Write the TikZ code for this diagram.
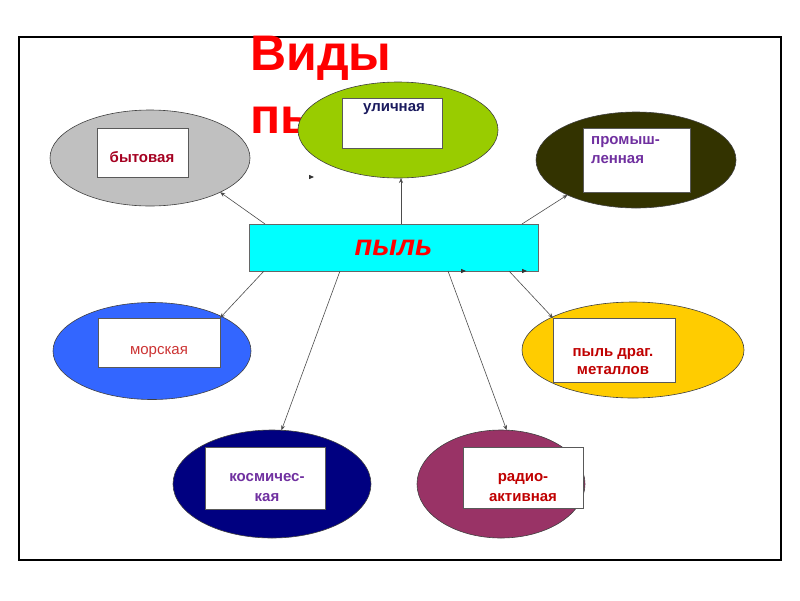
\documentclass[tikz,border=0pt]{standalone}
\usepackage{fontspec}
\setmainfont{Liberation Sans}
\usetikzlibrary{shapes.geometric,calc,arrows.meta}
\definecolor{cgray}{HTML}{C0C0C0}
\definecolor{cgreen}{HTML}{99CC00}
\definecolor{colive}{HTML}{333300}
\definecolor{cblue}{HTML}{3366FF}
\definecolor{cyellow}{HTML}{FFCC00}
\definecolor{cnavy}{HTML}{000080}
\definecolor{cplum}{HTML}{993366}
\definecolor{ccyan}{HTML}{00FFFF}
\definecolor{tdred}{HTML}{A50021}
\definecolor{tnavy}{HTML}{1A1A5E}
\definecolor{tpurple}{HTML}{7030A0}
\definecolor{tred}{HTML}{CC3333}
\definecolor{tcrim}{HTML}{C00000}
\begin{document}
\begin{tikzpicture}[x=1pt,y=-1pt,
  blob/.style={ellipse, draw=black!75, line width=0.6pt, inner sep=0pt, outer sep=0pt},
  card/.style={rectangle, fill=white, draw=black!65, line width=0.6pt, inner sep=0pt, outer sep=0pt},
  lbl/.style={font=\fontsize{15}{19}\selectfont\bfseries, align=center, inner sep=0pt},
  conn/.style={draw=black!70, line width=0.6pt, -{Stealth[length=5pt,width=4pt]}},
  stray/.style={fill=black!80},
  titletext/.style={anchor=base west, inner sep=0pt, text=red, font=\fontsize{50}{62}\selectfont\bfseries},
]
\useasboundingbox (0,0) rectangle (800,600);
% frame
\draw[black!45, line width=2.6pt] (19,37) rectangle (781,560);
\draw[black, line width=1.4pt] (19,37) rectangle (781,560);

% title (partly hidden by the green ellipse)
\node[titletext] (title1) at (250,70) {Виды};
\node[titletext] (title2) at (250,133) {пыли};

% ellipses
\node[blob, fill=cgray,   minimum width=200, minimum height=96]  (byt) at (150,158) {};
\node[blob, fill=cgreen,  minimum width=200, minimum height=96]  (ul)  at (398,130) {};
\node[blob, fill=colive,  minimum width=200, minimum height=96]  (pro) at (636,160) {};
\node[blob, fill=cblue,   minimum width=198, minimum height=97]  (mor) at (152,351) {};
\node[blob, fill=cyellow, minimum width=222, minimum height=96]  (drg) at (633,350) {};
\node[blob, fill=cnavy,   minimum width=198, minimum height=108] (kos) at (272,484) {};
\node[blob, fill=cplum,   minimum width=168, minimum height=108] (rad) at (501,484) {};

% white cards
\node[card, minimum width=91,  minimum height=49] (bytbox) at (143,152.5) {};
\node[card, minimum width=100, minimum height=50] (ulbox)  at (392,123) {};
\node[card, minimum width=107, minimum height=64] (probox) at (636.5,160) {};
\node[card, minimum width=122, minimum height=49] (morbox) at (159,342.5) {};
\node[card, minimum width=122, minimum height=64] (drgbox) at (614,350) {};
\node[card, minimum width=120, minimum height=62] (kosbox) at (265,478) {};
\node[card, minimum width=120, minimum height=61] (radbox) at (523,477.5) {};

% labels
\node[lbl, text=tdred]   (bytlbl) at (142,157) {бытовая};
\node[lbl, text=tnavy]   (ullbl)  at (394,109) {уличная};
\node[lbl, text=tpurple, align=left, anchor=north west] (prolbl) at (591,136) {промыш-\\ленная};
\node[lbl, text=tred, font=\fontsize{15}{19}\selectfont] (morlbl) at (159,352) {морская};
\node[lbl, text=tcrim, font=\fontsize{15}{18}\selectfont\bfseries] (drglbl) at (613,362) {пыль драг.\\металлов};
\node[lbl, text=tpurple, font=\fontsize{15}{20}\selectfont\bfseries] (koslbl) at (267,488) {космичес-\\кая};
\node[lbl, text=tcrim, font=\fontsize{15}{20}\selectfont\bfseries] (radlbl) at (523,487.5) {радио-\\активная};

% central box
\node[rectangle, fill=ccyan, draw=black!60, line width=0.7pt, minimum width=289, minimum height=47, inner sep=0pt, outer sep=0pt] (pyl) at (393.5,247.5) {};
\node[inner sep=0pt, text=red, font=\fontsize{29}{34}\selectfont\bfseries\itshape] (pyllbl) at (393.5,248) {пыль};

% connectors
\draw[conn] ($(pyl.north west)+(16,0)$) -- (byt.-26);
\draw[conn] ($(pyl.north west)+(152,0)$) -- ($(ul.south)+(3,0)$);
\draw[conn] ($(pyl.north east)+(-16,0)$) -- (pro.-153);
\draw[conn] ($(pyl.south west)+(15,0)$) -- (morbox.north east);
\draw[conn] ($(pyl.south west)+(91,0)$) -- (kos.80);
\draw[conn] ($(pyl.south west)+(199,0)$) -- (rad.84);
\draw[conn] ($(pyl.south east)+(-29,0)$) -- (drgbox.north west);

% stray arrow tips
\coordinate (s1) at (314,177);
\coordinate (s2) at (466,271);
\coordinate (s3) at (527,271);
\fill[stray] (s1) -- ++(-5,-2.2) -- ++(0,4.4) -- cycle;
\fill[stray] (s2) -- ++(-5,-2.2) -- ++(0,4.4) -- cycle;
\fill[stray] (s3) -- ++(-5,-2.2) -- ++(0,4.4) -- cycle;
\end{tikzpicture}
\end{document}
